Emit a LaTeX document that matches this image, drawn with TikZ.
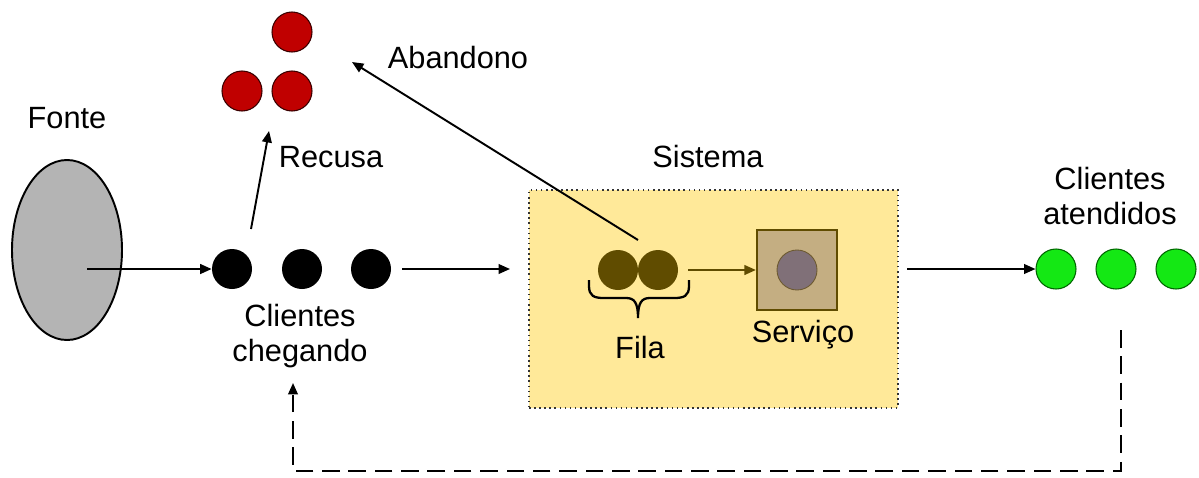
\documentclass[tikz,border=0pt]{standalone}
\usepackage{fontspec}
\setmainfont{Liberation Sans}
\usetikzlibrary{arrows.meta,shapes.geometric}
\definecolor{redc}{RGB}{192,0,0}
\definecolor{sysfill}{RGB}{255,233,153}
\definecolor{olive}{RGB}{96,76,0}
\definecolor{tan}{RGB}{196,174,130}
\definecolor{innerc}{RGB}{128,112,120}
\definecolor{greenc}{RGB}{20,232,20}
\definecolor{ellgray}{RGB}{180,180,180}
\begin{document}
\begin{tikzpicture}[x=0.02cm,y=-0.02cm,
  lbl/.style={font=\fontsize{17.5}{20}\selectfont, align=center, inner sep=0pt},
  dotc/.style={circle, minimum size=40*0.02cm, inner sep=0pt},
  blackdot/.style={dotc, fill=black},
  reddot/.style={dotc, fill=redc, draw=black!70!redc, line width=0.6pt},
  greendot/.style={dotc, fill=greenc, draw=black!60!green, line width=0.6pt},
  conn/.style={line width=1.1pt, -{Triangle[length=6.5pt,width=5.5pt]}},
  fb/.style={line width=1.1pt, dash pattern=on 10pt off 5pt, -{Triangle[length=6.5pt,width=5.5pt]}}
]
\useasboundingbox (0,0) rectangle (1199,477);

% source
\node[ellipse, draw=black, line width=1.1pt, fill=ellgray, minimum width=110*0.02cm, minimum height=180*0.02cm, inner sep=0pt] (fonte) at (67,250) {};
\node[lbl] (fontelbl) at (67,118) {Fonte};

% arriving clients
\node[blackdot] (a1) at (232,269) {};
\node[blackdot] (a2) at (302,269) {};
\node[blackdot] (a3) at (371,269) {};
\node[lbl] (chegando) at (300,336) {Clientes\\chegando};

% refused
\node[reddot] (r1) at (292,32) {};
\node[reddot] (r2) at (242,91) {};
\node[reddot] (r3) at (292,91) {};
\node[lbl] (recusa) at (331,157) {Recusa};
\node[lbl] (abandono) at (458,58) {Abandono};

% system
\node[draw=black!80, dotted, line width=0.9pt, fill=sysfill, minimum width=369*0.02cm, minimum height=218*0.02cm, inner sep=0pt] (sistema) at (713.5,299) {};
\node[lbl] (sistemalbl) at (708,157) {Sistema};

\node[dotc, fill=olive] (q1) at (618,270) {};
\node[dotc, fill=olive] (q2) at (658,270) {};
\draw[line width=1.3pt] (589,280) -- (589,286) .. controls (589,296) and (594,298) .. (604,298) -- (626,298) .. controls (634,298) and (638,302) .. (638,318)
  .. controls (638,302) and (642,298) .. (650,298) -- (674,298) .. controls (684,298) and (689,296) .. (689,286) -- (689,280);
\node[lbl] (fila) at (640,348) {Fila};

\node[draw=olive, line width=1.3pt, fill=tan, minimum size=80*0.02cm, inner sep=0pt] (servico) at (797,270) {};
\node[dotc, fill=innerc, draw=olive!60!innerc, line width=0.5pt] (server) at (797,270) {};
\node[lbl] (servicolbl) at (803,335) {Serviço};

% served
\node[greendot] (g1) at (1056,269) {};
\node[greendot] (g2) at (1116,269) {};
\node[greendot] (g3) at (1176,269) {};
\node[lbl] (atendidos) at (1110,196) {Clientes\\atendidos};

% coordinates
\coordinate (fstart) at (87,269);
\coordinate (recA) at (251,229);
\coordinate (recB) at (269,131);
\coordinate (abA) at (638,240);
\coordinate (abB) at (352,62);
\coordinate (sysIn) at (510,269);
\coordinate (a3out) at (402,269);
\coordinate (qout) at (688,270);
\coordinate (sysOut) at (907,269);
\coordinate (fbA) at (1121,330);
\coordinate (fbB) at (1121,471);
\coordinate (fbC) at (293,471);
\coordinate (fbD) at (293,383);

\draw[conn] (fstart) -- (a1.west);
\draw[conn] (recA) -- (recB);
\draw[conn] (abA) -- (abB);
\draw[conn] (a3out) -- (sysIn);
\draw[line width=1.1pt, draw=olive, -{Triangle[length=6.5pt,width=5.5pt]}] (qout) -- (servico.west);
\draw[conn] (sysOut) -- (g1.west);
\draw[fb] (fbA) -- (fbB) -- (fbC) -- (fbD);
\end{tikzpicture}
\end{document}
